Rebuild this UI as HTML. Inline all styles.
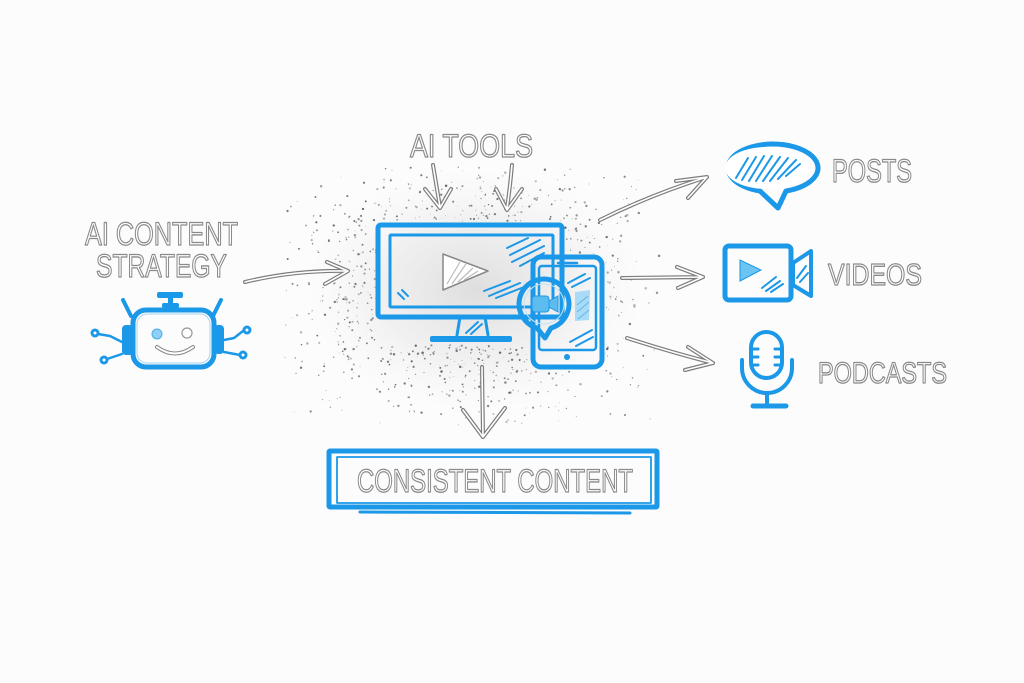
<!DOCTYPE html>
<html><head><meta charset="utf-8"><style>
html,body{margin:0;padding:0;background:#fff;}
svg{display:block}
.t{font-family:"Liberation Sans",sans-serif;fill:#fff;stroke:#8a8a8a;stroke-width:1.3;stroke-linejoin:round}
.ao{fill:none;stroke:#7d7d7d;stroke-width:4;stroke-linecap:round;stroke-linejoin:round}
.ai{fill:none;stroke:#fff;stroke-width:1.6;stroke-linecap:round;stroke-linejoin:round}
.b{fill:none;stroke:#1c98e8;stroke-linecap:round;stroke-linejoin:round}
.h{stroke:#1c98e8;stroke-width:2;stroke-linecap:round}
</style></head><body>
<svg id="s" width="1024" height="683" viewBox="0 0 1024 683" xmlns="http://www.w3.org/2000/svg">
<defs>
<radialGradient id="haze" cx="50%" cy="50%" r="50%">
<stop offset="0" stop-color="#d4d4d4" stop-opacity="0.75"/>
<stop offset="0.55" stop-color="#e2e2e2" stop-opacity="0.45"/>
<stop offset="1" stop-color="#f4f4f4" stop-opacity="0"/>
</radialGradient>
</defs>
<rect width="1024" height="683" fill="#fcfcfc"/>
<ellipse cx="475" cy="290" rx="175" ry="125" fill="url(#haze)"/>
<g id="dots"></g>

<!-- texts -->
<text class="t" x="85" y="245" font-size="32" textLength="153" lengthAdjust="spacingAndGlyphs">AI CONTENT</text>
<text class="t" x="96" y="277" font-size="32" textLength="131" lengthAdjust="spacingAndGlyphs">STRATEGY</text>
<text class="t" x="410" y="157" font-size="32" textLength="123" lengthAdjust="spacingAndGlyphs">AI TOOLS</text>
<text class="t" x="832" y="182" font-size="32" textLength="80" lengthAdjust="spacingAndGlyphs">POSTS</text>
<text class="t" x="828" y="285" font-size="31" textLength="94" lengthAdjust="spacingAndGlyphs">VIDEOS</text>
<text class="t" x="818" y="383" font-size="30" textLength="129" lengthAdjust="spacingAndGlyphs">PODCASTS</text>
<text class="t" x="357" y="492" font-size="32" textLength="276" lengthAdjust="spacingAndGlyphs">CONSISTENT CONTENT</text>

<!-- arrows -->
<g>
<path class="ao" d="M245,282 Q295,270 347,271 M327,262 L348,271 L325,284"/>
<path class="ai" d="M245,282 Q295,270 347,271 M327,262 L348,271 L325,284"/>
<path class="ao" d="M433,165 L440,207 M425,189 L440,208 L451,189"/>
<path class="ai" d="M433,165 L440,207 M425,189 L440,208 L451,189"/>
<path class="ao" d="M512,165 Q510,188 507,208 M496,189 L507,210 L522,189"/>
<path class="ai" d="M512,165 Q510,188 507,208 M496,189 L507,210 L522,189"/>
<path class="ao" d="M600,220 Q650,195 707,177 M676,181 L707,177 L688,198"/>
<path class="ai" d="M600,220 Q650,195 707,177 M676,181 L707,177 L688,198"/>
<path class="ao" d="M622,278 L703,277 M677,267 L703,277 L678,288"/>
<path class="ai" d="M622,278 L703,277 M677,267 L703,277 L678,288"/>
<path class="ao" d="M627,338 Q670,352 713,363 M688,347 L713,363 L685,370"/>
<path class="ai" d="M627,338 Q670,352 713,363 M688,347 L713,363 L685,370"/>
<path class="ao" d="M482,367 L483,436 M463,410 L483,437 L505,408"/>
<path class="ai" d="M482,367 L483,436 M463,410 L483,437 L505,408"/>
</g>

<!-- robot -->
<g>
<rect x="157" y="292" width="26" height="6" rx="2" fill="#1c98e8"/>
<rect x="168" y="297" width="5" height="8" fill="#1c98e8"/>
<rect x="162" y="303" width="17" height="5" rx="2" fill="#1c98e8"/>
<line class="b" stroke-width="4" x1="123" y1="300" x2="131" y2="316"/>
<line class="b" stroke-width="4" x1="221" y1="300" x2="213" y2="316"/>
<rect class="b" stroke-width="5" x="133" y="310" width="81" height="57" rx="13" fill="#fff"/>
<rect x="137" y="314" width="73" height="49" rx="10" fill="none" stroke="#9fd3f5" stroke-width="1"/>
<rect x="122" y="325" width="11" height="30" rx="4" fill="#1c98e8"/>
<rect x="214" y="325" width="10" height="29" rx="4" fill="#1c98e8"/>
<path class="b" stroke-width="2.5" d="M98,334 L110,336 L122,342 M107,359 L122,354 M243,331 L234,338 L224,340 M240,355 L224,352"/>
<circle cx="95" cy="333" r="4.5" fill="#1c98e8"/><circle cx="95" cy="333" r="1.5" fill="#fff"/>
<circle cx="104" cy="360" r="4.5" fill="#1c98e8"/><circle cx="104" cy="360" r="1.5" fill="#fff"/>
<circle cx="247" cy="330" r="4.5" fill="#1c98e8"/><circle cx="247" cy="330" r="1.5" fill="#fff"/>
<circle cx="243" cy="355" r="4.5" fill="#1c98e8"/><circle cx="243" cy="355" r="1.5" fill="#fff"/>
<circle cx="157" cy="334" r="5" fill="#8fd0f5" stroke="#4aaee8" stroke-width="1"/>
<circle cx="187" cy="333" r="5" fill="#fff" stroke="#999" stroke-width="1.2"/>
<path d="M157,347 Q175,360 193,347" fill="none" stroke="#888" stroke-width="4" stroke-linecap="round"/>
<path d="M157,347 Q175,360 193,347" fill="none" stroke="#fff" stroke-width="2" stroke-linecap="round"/>
</g>

<!-- monitor -->
<g>
<rect class="b" stroke-width="5" x="378" y="225" width="184" height="92" rx="3" fill="#fff"/>
<rect class="b" stroke-width="3" x="390" y="235" width="163" height="72" rx="1" fill="#fff"/>
<path class="b" stroke-width="3" d="M460,317 L457,335 M485,317 L488,335"/>
<path class="h" d="M466,333 L478,322 M471,334 L482,324"/>
<rect x="430" y="336" width="82" height="6" rx="2" fill="#1c98e8"/>
<polygon points="443,254 443,290 488,271" fill="#fff" stroke="#888" stroke-width="1.5" stroke-linejoin="round"/>
<path d="M447,284 L460,262 M452,284 L466,264 M458,282 L473,268 M464,280 L478,271" stroke="#bbb" stroke-width="1.2"/>
<path class="h" d="M507,248 L528,238 M510,255 L540,240 M512,262 L544,246 M520,266 L544,253 M484,291 L510,281 M489,296 L520,283 M496,298 L524,287 M398,293 L404,299 M402,290 L408,296"/>
</g>

<!-- phone -->
<g>
<rect class="b" stroke-width="5" x="533" y="257" width="69" height="110" rx="8" fill="#fff"/>
<rect class="b" stroke-width="2.5" x="539" y="266" width="57" height="84" rx="3"/>
<line class="b" stroke-width="2.5" x1="558" y1="263" x2="577" y2="263"/>
<circle cx="567" cy="357" r="3" fill="#1c98e8"/>
<path class="h" d="M568,283 L585,274 M572,287 L590,278 M570,342 L592,330 M576,346 L593,337"/>
<polygon points="575,292 590,290 589,320 575,321" fill="#a9dbf7"/>
<path d="M577,305 L588,296 M577,312 L589,302 M578,319 L589,310" stroke="#5fb6ea" stroke-width="1"/>
<path class="b" stroke-width="5" d="M537,328 A25,25 0 1 1 551,328 L545,338 Z" fill="#fff"/>
<circle cx="544" cy="304" r="20" fill="none" stroke="#bfe3f9" stroke-width="1"/>
<rect x="532" y="296" width="17" height="16" rx="3" fill="#5cbcf0" stroke="#1c98e8" stroke-width="1"/>
<polygon points="549,301 558,296 558,312 549,307" fill="#5cbcf0" stroke="#1c98e8" stroke-width="1"/>
</g>

<!-- posts bubble -->
<g>
<path class="b" stroke-width="5" fill="#fff" d="M760,191 A45,24 0 1 1 786,191 L778,208 Z"/>
<ellipse cx="767" cy="168" rx="42" ry="21" fill="#fff"/>
<path class="h" d="M736,178 L748,158 M742,180 L756,157 M749,181 L764,156 M756,181 L772,156 M763,181 L780,157 M770,181 L788,158 M778,179 L796,160 M786,176 L800,164"/>
</g>

<!-- video camera -->
<g>
<rect class="b" stroke-width="5" x="725" y="246" width="66" height="54" rx="4" fill="#fff"/>
<polygon class="b" stroke-width="4" points="793,263 811,251 811,296 793,285" fill="#fff"/>
<polygon points="740,260 740,281 761,270" fill="#6cc4f2" stroke="#1c98e8" stroke-width="1"/>
<path class="h" d="M762,288 L776,277 M766,291 L780,281 M771,292 L783,284 M797,278 L806,266 M800,282 L808,273"/>
</g>

<!-- mic -->
<g>
<rect class="b" stroke-width="4" x="751" y="332" width="31" height="46" rx="15.5" fill="#fff"/>
<path class="b" stroke-width="3" d="M751,349 L758,349 M751,357 L758,357 M751,365 L758,365 M775,349 L782,349 M775,357 L782,357 M775,365 L782,365"/>
<path class="b" stroke-width="4" d="M742,360 L742,368 A25,25 0 0 0 792,368 L792,360"/>
<line class="b" stroke-width="4" x1="767" y1="393" x2="767" y2="403"/>
<line class="b" stroke-width="5" x1="753" y1="406" x2="786" y2="406"/>
</g>

<!-- consistent content box -->
<g>
<rect class="b" stroke-width="5" x="329" y="451" width="328" height="56" rx="1"/>
<rect class="b" stroke-width="1.8" x="337" y="457" width="314" height="46"/>
<line class="b" stroke-width="3" x1="360" y1="512" x2="630" y2="513"/>
</g>
</svg>
<script>
(function(){
var s=987654321;function r(){s=(s*16807)%2147483647;return s/2147483647;}
function g(){return (r()+r()+r()+r()-2)/0.577;}
var G=document.getElementById('dots'),out='';
for(var i=0;i<1700;i++){
 var x=472+g()*85,y=290+g()*62;
 if(x>376&&x<565&&y>222&&y<345)continue;
 if(x>530&&x<605&&y>254&&y<370)continue;
 if(y>425||y<165||x<285||x>660)continue;
 var rad=0.35+r()*0.9,o=0.35+r()*0.5;
 out+='<circle cx="'+x.toFixed(1)+'" cy="'+y.toFixed(1)+'" r="'+rad.toFixed(2)+'" fill="#4a4f5a" fill-opacity="'+o.toFixed(2)+'"/>';
}
G.innerHTML=out;
})();
</script>
</body></html>
